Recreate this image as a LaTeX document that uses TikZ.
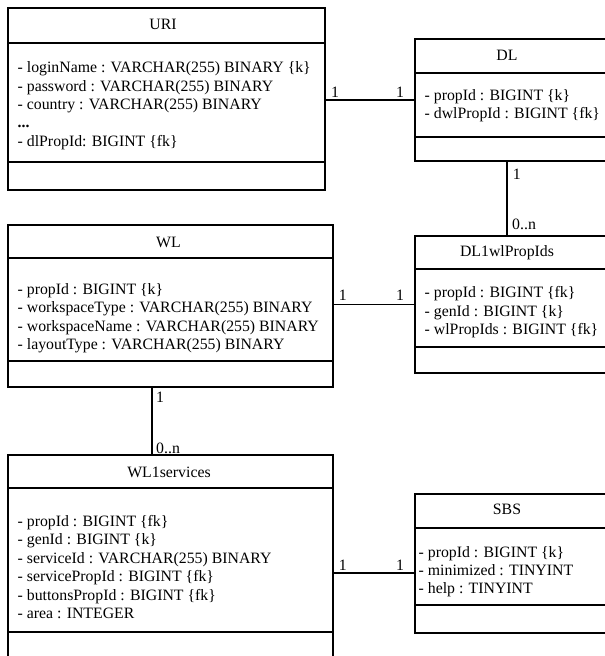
\documentclass[tikz,border=0pt]{standalone}
\usepackage{fontspec}
\setmainfont{Liberation Serif}
\begin{document}
\begin{tikzpicture}[x=1pt,y=-1pt,
  every node/.style={font=\fontsize{15.8}{18}\selectfont},
  box/.style={draw, line width=1.9pt, rectangle, inner sep=0pt, outer sep=0pt, anchor=north west},
  sepline/.style={line width=1.9pt},
  conn/.style={line width=1.7pt},
  ttl/.style={anchor=base, inner sep=0pt},
  attr/.style={anchor=base west, inner sep=0pt},
  mult/.style={anchor=base west, inner sep=0pt}]
\useasboundingbox (0,0) rectangle (605,656);
\clip (0,0) rectangle (605,656);
% boxes
\node[box, minimum width=317pt, minimum height=182pt] (uri) at (8,8) {};
\node[box, minimum width=194pt, minimum height=122pt] (dl) at (415,39) {};
\node[box, minimum width=194pt, minimum height=137pt] (dlwl) at (415,236) {};
\node[box, minimum width=325pt, minimum height=162pt] (wl) at (8,225) {};
\node[box, minimum width=325pt, minimum height=230pt] (wls) at (8,455) {};
\node[box, minimum width=194pt, minimum height=139pt] (sbs) at (415,494) {};
% compartment lines
\draw[sepline] (uri.west |- 0,43) -- (uri.east |- 0,43);
\draw[sepline] (uri.west |- 0,162) -- (uri.east |- 0,162);
\draw[sepline] (dl.west |- 0,73) -- (dl.east |- 0,73);
\draw[sepline] (dl.west |- 0,137) -- (dl.east |- 0,137);
\draw[sepline] (dlwl.west |- 0,269) -- (dlwl.east |- 0,269);
\draw[sepline] (dlwl.west |- 0,347) -- (dlwl.east |- 0,347);
\draw[sepline] (wl.west |- 0,258) -- (wl.east |- 0,258);
\draw[sepline] (wl.west |- 0,361) -- (wl.east |- 0,361);
\draw[sepline] (wls.west |- 0,488) -- (wls.east |- 0,488);
\draw[sepline] (wls.west |- 0,632) -- (wls.east |- 0,632);
\draw[sepline] (sbs.west |- 0,528) -- (sbs.east |- 0,528);
\draw[sepline] (sbs.west |- 0,605) -- (sbs.east |- 0,605);
% titles
\node[ttl] (urit) at (163,29.8) {URI};
\node[ttl] (dlt) at (507,60.5) {DL};
\node[ttl] (dlwlt) at (507,256.5) {DL1wlPropIds};
\node[ttl] (wlt) at (168.5,247) {WL};
\node[ttl] (wlst) at (169,477) {WL1services};
\node[ttl] (sbst) at (507,514.5) {SBS};
% URI attributes
\node[attr] (uria) at (17.5,72.8) {- loginName : VARCHAR(255) BINARY \{k\}};
\node[attr] (urib) at (17.5,91.1) {- password : VARCHAR(255) BINARY};
\node[attr] (uric) at (17.5,109.4) {- country : VARCHAR(255) BINARY};
\node[attr] (urid) at (17.5,127.7) {\textbf{...}};
\node[attr] (urie) at (17.5,146) {- dlPropId: BIGINT \{fk\}};
% DL attributes
\node[attr] (dla) at (424.5,100.5) {- propId : BIGINT \{k\}};
\node[attr] (dlb) at (424.5,118) {- dwlPropId : BIGINT \{fk\}};
% DL1wlPropIds attributes
\node[attr] (dlwla) at (424.5,297.5) {- propId : BIGINT \{fk\}};
\node[attr] (dlwlb) at (424.5,316) {- genId : BIGINT \{k\}};
\node[attr] (dlwlc) at (424.5,334.5) {- wlPropIds : BIGINT \{fk\}};
% WL attributes
\node[attr] (wla) at (17.5,294.5) {- propId : BIGINT \{k\}};
\node[attr] (wlb) at (17.5,312.8) {- workspaceType : VARCHAR(255) BINARY};
\node[attr] (wlc) at (17.5,331.2) {- workspaceName : VARCHAR(255) BINARY};
\node[attr] (wld) at (17.5,349.5) {- layoutType : VARCHAR(255) BINARY};
% WL1services attributes
\node[attr] (wlsa) at (17.5,526) {- propId : BIGINT \{fk\}};
\node[attr] (wlsb) at (17.5,544.5) {- genId : BIGINT \{k\}};
\node[attr] (wlsc) at (17.5,563) {- serviceId : VARCHAR(255) BINARY};
\node[attr] (wlsd) at (17.5,581.5) {- servicePropId : BIGINT \{fk\}};
\node[attr] (wlse) at (17.5,600) {- buttonsPropId : BIGINT \{fk\}};
\node[attr] (wlsf) at (17.5,618.5) {- area : INTEGER};
% SBS attributes
\node[attr] (sbsa) at (418.5,557.5) {- propId : BIGINT \{k\}};
\node[attr] (sbsb) at (418.5,575.5) {- minimized : TINYINT};
\node[attr] (sbsc) at (418.5,593.5) {- help : TINYINT};
% connectors
\coordinate (c1) at (0,573.3);
\coordinate (c2) at (506.7,0);
\coordinate (c3) at (152.3,0);
\draw[conn] (uri.east |- dl.west) -- (dl.west);
\draw[conn] (wl.east |- dlwl.west) -- (dlwl.west);
\draw[conn] (wls.east |- c1) -- (sbs.west |- c1);
\draw[conn] (dl.south -| c2) -- (dlwl.north -| c2);
\draw[conn] (wl.south -| c3) -- (wls.north -| c3);
% multiplicities
\node[mult] (m1) at (331,97) {1};
\node[mult] (m2) at (396,97) {1};
\node[mult] (m3) at (338.7,300) {1};
\node[mult] (m4) at (396,300) {1};
\node[mult] (m5) at (338.7,570) {1};
\node[mult] (m6) at (396,570) {1};
\node[mult] (m7) at (512.7,179) {1};
\node[mult] (m8) at (512,229) {0..n};
\node[mult] (m9) at (156,402) {1};
\node[mult] (m10) at (156,453) {0..n};
\end{tikzpicture}
\end{document}
